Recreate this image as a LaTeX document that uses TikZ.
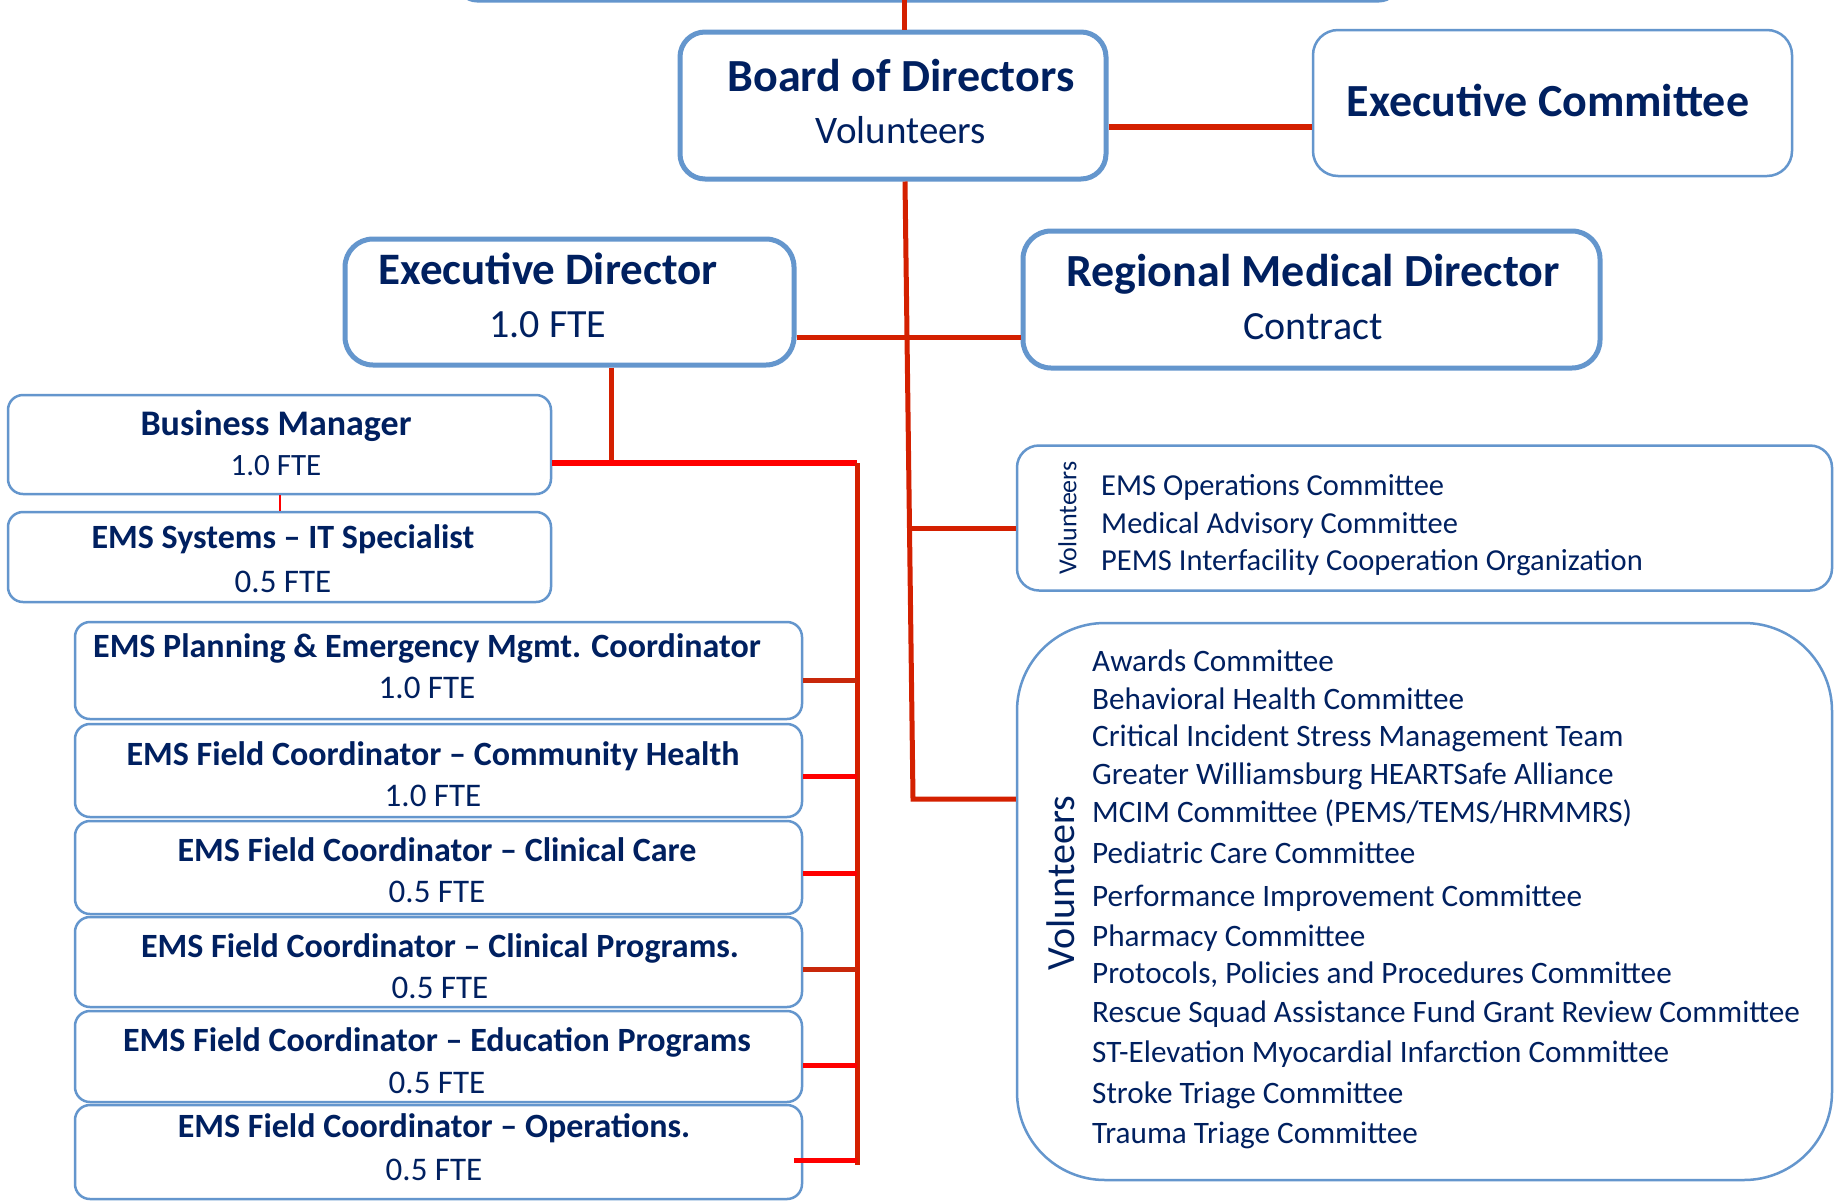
\documentclass[tikz,border=0pt]{standalone}
\usepackage{fontspec}
\setmainfont{Carlito}
\definecolor{navy}{RGB}{0,32,96}
\definecolor{boxblue}{RGB}{100,150,205}
\definecolor{lred}{RGB}{212,32,0}
\definecolor{dred}{RGB}{200,40,10}
\definecolor{bred}{RGB}{255,0,0}
\newcommand{\fs}[1]{\fontsize{#1}{#1}\selectfont}
\begin{document}
\begin{tikzpicture}[x=1pt,y=-1pt,
  orgbox/.style={draw=boxblue, fill=white, line width=2.5pt, rounded corners=15pt, inner sep=0pt},
  bigbox/.style={orgbox, line width=5pt, rounded corners=25pt},
  txt/.style={text=navy, inner sep=0pt, anchor=mid},
  ltxt/.style={text=navy, inner sep=0pt, anchor=mid west},
  rl/.style={draw=lred, line width=5pt},
  brl/.style={draw=bred, line width=5pt}]
\useasboundingbox (0,0) rectangle (1839,1200);
\fill[white] (0,0) rectangle (1839,1200);

% boxes
\node[orgbox, line width=3pt, rounded corners=20pt, minimum width=942pt, minimum height=60pt] (top) at (928,-29) {};
\node[bigbox, minimum width=426pt, minimum height=147pt] (bod) at (893,105.5) {};
\node[orgbox, rounded corners=25pt, minimum width=479pt, minimum height=146pt] (ec) at (1552.5,103) {};
\node[bigbox, rounded corners=28pt, minimum width=449pt, minimum height=126pt] (ed) at (569.5,302) {};
\node[bigbox, rounded corners=28pt, minimum width=577pt, minimum height=137pt] (rmd) at (1311.5,299.5) {};
\node[orgbox, minimum width=543pt, minimum height=99pt] (bm) at (279.5,444.5) {};
\node[orgbox, minimum width=543pt, minimum height=90pt] (it) at (279.5,557) {};
\node[orgbox, minimum width=727pt, minimum height=97pt] (c1) at (438.5,670.5) {};
\node[orgbox, minimum width=727pt, minimum height=93pt] (c2) at (438.5,770.5) {};
\node[orgbox, minimum width=727pt, minimum height=93pt] (c3) at (438.5,867.5) {};
\node[orgbox, minimum width=727pt, minimum height=90pt] (c4) at (438.5,962) {};
\node[orgbox, minimum width=727pt, minimum height=91pt] (c5) at (438.5,1056.5) {};
\node[orgbox, minimum width=727pt, minimum height=94pt] (c6) at (438.5,1152) {};
\node[orgbox, rounded corners=22pt, minimum width=815pt, minimum height=145pt] (v1) at (1424.5,518) {};
\node[orgbox, rounded corners=88pt, minimum width=815pt, minimum height=557pt] (v2) at (1424.5,901.5) {};

% connectors
\coordinate (t0) at (904,0);
\draw[rl] (t0) -- (t0 |- bod.north);
\draw[rl, line width=6pt] (bod.east |- 0,127) -- (ec.west |- 0,127);
\coordinate (s0) at (905,179);
\coordinate (s1) at (913,799);
\coordinate (s2) at (909.5,528);
\draw[rl] (s0 |- bod.south) -- (s1) -- (v2.west |- s1);
\draw[rl] (s2) -- (v1.west |- s2);
\draw[rl] (ed.east |- 0,337) -- (rmd.west |- 0,337);
\coordinate (e1) at (611,463);
\draw[rl] (e1 |- ed.south) -- (e1);
\coordinate (k0) at (857,463);
\coordinate (k1) at (857,1165);
\draw[brl, line width=6pt] (bm.east |- k0) -- (k0);
\draw[rl] (k0) -- (k1);
\draw[dred, line width=5pt] (c1.east |- 0,680) -- (k0 |- 0,680);
\draw[brl] (c2.east |- 0,776) -- (k0 |- 0,776);
\draw[brl] (c3.east |- 0,873) -- (k0 |- 0,873);
\draw[dred, line width=5pt] (c4.east |- 0,969) -- (k0 |- 0,969);
\draw[brl] (c5.east |- 0,1065) -- (k0 |- 0,1065);
\draw[brl] ([xshift=-9pt]c6.east |- 0,1160) -- (k1 |- 0,1160);
\draw[bred, line width=2pt] (bm.south -| 280,0) -- (it.north -| 280,0);

% texts
\node[txt, font=\fs{46}\bfseries] (bodt) at (901,89) {Board of Directors};
\node[txt, font=\fs{39}] (bodv) at (901,141.5) {Volunteers};
\node[txt, font=\fs{46}\bfseries] (ect) at (1548,114) {Executive Committee};
\node[txt, font=\fs{45}\bfseries] (edt) at (548,282) {Executive Director};
\node[txt, font=\fs{40}] (edf) at (548,335.5) {1.0 FTE};
\node[txt, font=\fs{46}\bfseries] (rmdt) at (1313,284.5) {Regional Medical Director};
\node[txt, font=\fs{40}] (rmdc) at (1313,337.5) {Contract};
\node[txt, font=\fs{36}\bfseries] (bmt) at (276,433) {Business Manager};
\node[txt, font=\fs{31}] (bmf) at (276,473) {1.0 FTE};
\node[txt, font=\fs{34}\bfseries] (itt) at (283,546) {EMS Systems -- IT Specialist};
\node[txt, font=\fs{33}] (itf) at (283,590.5) {0.5 FTE};
\node[txt, font=\fs{34}\bfseries] (c1t) at (427,655) {EMS Planning \& Emergency Mgmt. Coordinator};
\node[txt, font=\fs{33}] (c1f) at (427,696.5) {1.0 FTE};
\node[txt, font=\fs{34}\bfseries] (c2t) at (433,763) {EMS Field Coordinator -- Community Health};
\node[txt, font=\fs{33}] (c2f) at (433,804.5) {1.0 FTE};
\node[txt, font=\fs{34}\bfseries] (c3t) at (437,859) {EMS Field Coordinator -- Clinical Care};
\node[txt, font=\fs{33}] (c3f) at (437,900.5) {0.5 FTE};
\node[txt, font=\fs{34}\bfseries] (c4t) at (440,955) {EMS Field Coordinator -- Clinical Programs.};
\node[txt, font=\fs{33}] (c4f) at (440,996.5) {0.5 FTE};
\node[txt, font=\fs{34}\bfseries] (c5t) at (437,1049) {EMS Field Coordinator -- Education Programs};
\node[txt, font=\fs{33}] (c5f) at (437,1091.5) {0.5 FTE};
\node[txt, font=\fs{34}\bfseries] (c6t) at (434,1135) {EMS Field Coordinator -- Operations.};
\node[txt, font=\fs{33}] (c6f) at (434,1178.5) {0.5 FTE};

\node[txt, font=\fs{26}, rotate=90] (v1v) at (1074,518) {Volunteers};
\node[ltxt, font=\fs{30.5}] (v1a) at (1101,493) {EMS Operations Committee};
\node[ltxt, font=\fs{30.5}] (v1b) at (1101,531) {Medical Advisory Committee};
\node[ltxt, font=\fs{30.5}] (v1c) at (1101,568) {PEMS Interfacility Cooperation Organization};

\node[txt, font=\fs{40}, rotate=90] (v2v) at (1072,883) {Volunteers};
\node[ltxt, font=\fs{31.2}] (a1) at (1092,669) {Awards Committee};
\node[ltxt, font=\fs{31.2}] (a2) at (1092,707) {Behavioral Health Committee};
\node[ltxt, font=\fs{31.2}] (a3) at (1092,744) {Critical Incident Stress Management Team};
\node[ltxt, font=\fs{31.2}] (a4) at (1092,782) {Greater Williamsburg HEARTSafe Alliance};
\node[ltxt, font=\fs{31.2}] (a5) at (1092,820) {MCIM Committee (PEMS/TEMS/HRMMRS)};
\node[ltxt, font=\fs{31.2}] (a6) at (1092,861) {Pediatric Care Committee};
\node[ltxt, font=\fs{31.2}] (a7) at (1092,904) {Performance Improvement Committee};
\node[ltxt, font=\fs{31.2}] (a8) at (1092,944) {Pharmacy Committee};
\node[ltxt, font=\fs{31.2}] (a9) at (1092,981) {Protocols, Policies and Procedures Committee};
\node[ltxt, font=\fs{31.2}] (a10) at (1092,1020) {Rescue Squad Assistance Fund Grant Review Committee};
\node[ltxt, font=\fs{31.2}] (a11) at (1092,1060) {ST-Elevation Myocardial Infarction Committee};
\node[ltxt, font=\fs{31.2}] (a12) at (1092,1101) {Stroke Triage Committee};
\node[ltxt, font=\fs{31.2}] (a13) at (1092,1141) {Trauma Triage Committee};
\end{tikzpicture}
\end{document}
